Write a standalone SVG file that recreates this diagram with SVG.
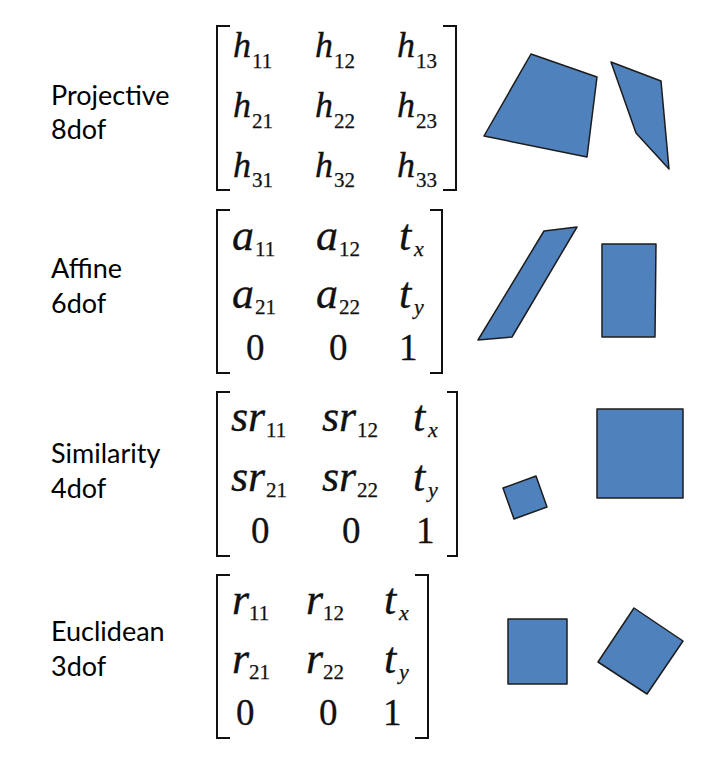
<svg xmlns="http://www.w3.org/2000/svg" width="728" height="770" viewBox="0 0 728 770">
<style>
.lbl{font-family:Lato,"Open Sans",sans-serif;font-size:27px;fill:#000}
.h{font-family:"Liberation Serif",serif;font-style:italic;font-size:36px;fill:#111;stroke:#111;stroke-width:0.35}
.v{font-family:"Liberation Serif",serif;font-style:italic;font-size:44px;fill:#111;stroke:#111;stroke-width:0.3}
.d{font-family:"Liberation Serif",serif;font-size:37px;fill:#111;stroke:#111;stroke-width:0.3}
.s{font-family:"Liberation Serif",serif;font-size:21px;fill:#111;stroke:#111;stroke-width:0.25}
.si{font-family:"Liberation Serif",serif;font-style:italic;font-size:22px;fill:#111;stroke:#111;stroke-width:0.25}
.br{fill:none;stroke:#111;stroke-width:2}
.sh{fill:#4f81bd;stroke:#1c1c1c;stroke-width:1.5;stroke-linejoin:round}
</style>
<rect width="728" height="770" fill="#fff"/>
<g id="projective">
  <text class="lbl" x="51" y="105">Projective</text>
  <text class="lbl" x="51" y="139">8dof</text>
  <path class="br" d="M230,26 H217 V190 H230 M443,26 H456 V190 H443"/>
  <text class="h" x="233" y="57">h</text><text class="s" x="252" y="68">11</text>
  <text class="h" x="315" y="57">h</text><text class="s" x="334" y="68">12</text>
  <text class="h" x="397" y="57">h</text><text class="s" x="416" y="68">13</text>
  <text class="h" x="233" y="117">h</text><text class="s" x="252" y="128">21</text>
  <text class="h" x="315" y="117">h</text><text class="s" x="334" y="128">22</text>
  <text class="h" x="397" y="117">h</text><text class="s" x="416" y="128">23</text>
  <text class="h" x="233" y="177">h</text><text class="s" x="252" y="187">31</text>
  <text class="h" x="315" y="177">h</text><text class="s" x="334" y="187">32</text>
  <text class="h" x="397" y="177">h</text><text class="s" x="416" y="187">33</text>
  <polygon class="sh" points="531,54 597,77 587,157 484,136"/>
  <polygon class="sh" points="611,62 661,81 669,169 636,133"/>
</g>
<g id="affine">
  <text class="lbl" x="51" y="278">Affine</text>
  <text class="lbl" x="51" y="313">6dof</text>
  <path class="br" d="M230,210 H217 V373 H230 M430,210 H442 V373 H430"/>
  <text class="v" x="232" y="250">a</text><text class="s" x="255" y="256">11</text>
  <text class="v" x="316" y="250">a</text><text class="s" x="339" y="256">12</text>
  <text class="v" x="399" y="250">t</text><text class="si" x="414" y="256">x</text>
  <text class="v" x="232" y="308">a</text><text class="s" x="255" y="314">21</text>
  <text class="v" x="316" y="308">a</text><text class="s" x="339" y="314">22</text>
  <text class="v" x="399" y="308">t</text><text class="si" x="414" y="314">y</text>
  <text class="d" x="246" y="360">0</text>
  <text class="d" x="329" y="360">0</text>
  <text class="d" x="399" y="360">1</text>
  <polygon class="sh" points="544,231 577,227 512,337 478,340"/>
  <polygon class="sh" points="602,244 656,244 655,337 602,337"/>
</g>
<g id="similarity">
  <text class="lbl" x="51" y="463">Similarity</text>
  <text class="lbl" x="51" y="498">4dof</text>
  <path class="br" d="M230,392 H217 V556 H230 M447,392 H457 V556 H447"/>
  <text class="v" x="231" y="431">sr</text><text class="s" x="266" y="437">11</text>
  <text class="v" x="322" y="431">sr</text><text class="s" x="357" y="437">12</text>
  <text class="v" x="413" y="431">t</text><text class="si" x="428" y="437">x</text>
  <text class="v" x="231" y="491">sr</text><text class="s" x="266" y="497">21</text>
  <text class="v" x="322" y="491">sr</text><text class="s" x="357" y="497">22</text>
  <text class="v" x="413" y="491">t</text><text class="si" x="428" y="497">y</text>
  <text class="d" x="251" y="543">0</text>
  <text class="d" x="342" y="543">0</text>
  <text class="d" x="416" y="543">1</text>
  <polygon class="sh" points="597,409 683,409 683,498 597,498"/>
  <polygon class="sh" points="503,488 536,476 547,507 514,519"/>
</g>
<g id="euclidean">
  <text class="lbl" x="51" y="641">Euclidean</text>
  <text class="lbl" x="51" y="676">3dof</text>
  <path class="br" d="M230,575 H217 V738 H230 M415,575 H428 V738 H415"/>
  <text class="v" x="232" y="614">r</text><text class="s" x="249" y="620">11</text>
  <text class="v" x="306" y="614">r</text><text class="s" x="323" y="620">12</text>
  <text class="v" x="384" y="614">t</text><text class="si" x="399" y="620">x</text>
  <text class="v" x="232" y="673">r</text><text class="s" x="249" y="679">21</text>
  <text class="v" x="306" y="673">r</text><text class="s" x="323" y="679">22</text>
  <text class="v" x="384" y="673">t</text><text class="si" x="399" y="679">y</text>
  <text class="d" x="236" y="725">0</text>
  <text class="d" x="319" y="725">0</text>
  <text class="d" x="383" y="725">1</text>
  <polygon class="sh" points="508,619 567,619 567,684 508,684"/>
  <polygon class="sh" points="634,608 683,641 647,694 598,662"/>
</g>
<g id="connectors"/>
</svg>
